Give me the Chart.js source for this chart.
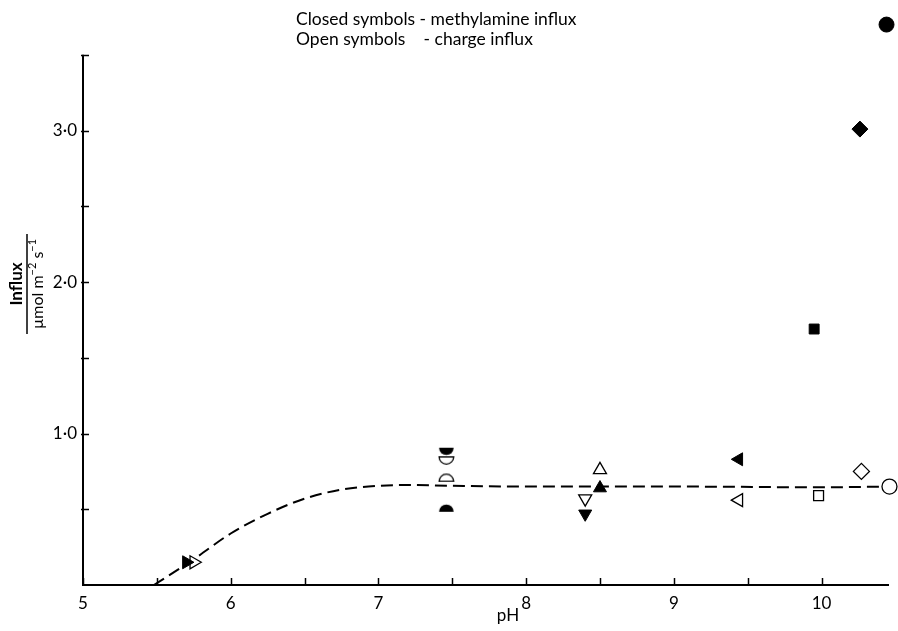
<!DOCTYPE html>
<html>
<head>
<meta charset="utf-8">
<script src="https://cdn.jsdelivr.net/npm/chart.js@4"></script>
<style>
  html, body { margin: 0; padding: 0; background: #fff; }
  #wrap { width: 898px; height: 631px; }
</style>
</head>
<body>
<div id="wrap"><canvas id="chart"></canvas></div>
<script>
// closed symbols - methylamine influx
const closedPH = [5.70, 7.46, 7.46, 8.40, 8.50, 9.44, 9.95, 10.26, 10.44];
const closedInflux = [0.15, 0.88, 0.51, 0.47, 0.64, 0.83, 1.69, 3.01, 3.70];
// open symbols - charge influx
const openPH = [5.75, 7.46, 7.46, 8.40, 8.50, 9.44, 9.98, 10.27, 10.46];
const openInflux = [0.15, 0.82, 0.71, 0.57, 0.76, 0.56, 0.59, 0.75, 0.65];
// one symbol per experiment, same order in both lists
const closedShapes = ["right", "bowl", "dome", "down", "up", "left", "square", "diamond", "circle"];
const openShapes = ["right", "bowl", "dome", "down", "up", "left", "square", "diamond", "circle"];

// dashed curve
const curvePH = [5.48, 5.75, 6.0, 6.25, 6.5, 6.75, 7.0, 7.2, 7.5, 8.0, 9.0, 10.0, 10.45];
const curveInflux = [0.0, 0.17, 0.34, 0.47, 0.57, 0.63, 0.655, 0.66, 0.655, 0.65, 0.65, 0.645, 0.65];

const xLabels = [5, 6, 7, 8, 9, 10];
const yLabels = [1, 2, 3];
const yAxisTop = 3.5;

// half circle symbols drawn on a small canvas
function halfCircle(kind, filled) {
    const c = document.createElement("canvas");
    c.width = 17;
    c.height = 10;
    const g = c.getContext("2d");
    g.beginPath();
    if (kind === "dome") {
        g.arc(8.5, 9, 7.3, Math.PI, 2 * Math.PI);
    } else {
        g.arc(8.5, 1, 7.3, 0, Math.PI);
    }
    g.closePath();
    if (filled) {
        g.fillStyle = "#000";
        g.fill();
    } else {
        g.fillStyle = "#fff";
        g.fill();
        g.lineWidth = 1.3;
        g.strokeStyle = "#000";
        g.stroke();
    }
    return c;
}

function styleOf(shape, filled) {
    if (shape === "bowl" || shape === "dome") return halfCircle(shape, filled);
    if (shape === "square") return "rect";
    if (shape === "diamond") return "rectRot";
    if (shape === "circle") return "circle";
    return "triangle";
}

function rotationOf(shape) {
    if (shape === "right") return 90;
    if (shape === "down") return 180;
    if (shape === "left") return 270;
    return 0;
}

function radiusOf(shape) {
    if (shape === "square") return 7;
    if (shape === "diamond") return 8;
    return 7.5;
}

function toPoints(xs, ys) {
    return xs.map((x, i) => ({ x: x, y: ys[i] }));
}

// y axis line stops at 3.5, tick marks point into the plot
const axisPlugin = {
    id: "axisPlugin",
    afterDraw(chart) {
        const ctx = chart.ctx;
        const xs = chart.scales.x;
        const ys = chart.scales.y;
        const left = chart.chartArea.left;
        ctx.save();
        ctx.strokeStyle = "#000";
        ctx.lineWidth = 2;
        ctx.beginPath();
        ctx.moveTo(left, ys.getPixelForValue(0) + 1);
        ctx.lineTo(left, ys.getPixelForValue(yAxisTop));
        ctx.stroke();

        ctx.lineWidth = 1.5;
        xs.ticks.forEach(t => {
            const px = Math.round(xs.getPixelForValue(t.value)) + 0.5;
            ctx.beginPath();
            ctx.moveTo(px, xs.top);
            ctx.lineTo(px, xs.top - 7);
            ctx.stroke();
        });
        ys.ticks.forEach(t => {
            if (t.value === 0) return;
            const py = Math.round(ys.getPixelForValue(t.value)) + 0.5;
            ctx.beginPath();
            ctx.moveTo(left - 2, py);
            ctx.lineTo(left + 6, py);
            ctx.stroke();
        });
        ctx.restore();
    }
};

// key text and axis titles
const textPlugin = {
    id: "textPlugin",
    afterDraw(chart) {
        const ctx = chart.ctx;
        ctx.save();
        ctx.fillStyle = "#000";
        ctx.textAlign = "left";
        ctx.textBaseline = "alphabetic";
        ctx.font = "17.5px Lato";
        const head = "Closed symbols ";
        ctx.fillText(head + "- methylamine influx", 296, 25);
        ctx.fillText("Open symbols", 296, 45);
        ctx.fillText("- charge influx", 296 + ctx.measureText(head).width + 4, 45);

        ctx.textAlign = "center";
        ctx.font = "17px Lato";
        ctx.fillText("pH", 508, 621);

        // y title as a fraction, rotated
        ctx.translate(27, 284);
        ctx.rotate(-Math.PI / 2);
        ctx.font = "bold 17px Lato";
        ctx.fillText("Influx", 0, -5);
        ctx.lineWidth = 1.5;
        ctx.beginPath();
        ctx.moveTo(-50, 0);
        ctx.lineTo(50, 0);
        ctx.stroke();

        const parts = [
            ["\u00b5mol m", 16, 0],
            ["\u22122", 11, -7],
            [" s", 16, 0],
            ["\u22121", 11, -7]
        ];
        let total = 0;
        parts.forEach(p => {
            ctx.font = p[1] + "px Lato";
            total += ctx.measureText(p[0]).width;
        });
        let x = -total / 2;
        ctx.textAlign = "left";
        parts.forEach(p => {
            ctx.font = p[1] + "px Lato";
            ctx.fillText(p[0], x, 16 + p[2]);
            x += ctx.measureText(p[0]).width;
        });
        ctx.restore();
    }
};

new Chart(document.getElementById("chart"), {
    data: {
        datasets: [
            {
                type: "scatter",
                label: "methylamine influx",
                data: toPoints(closedPH, closedInflux),
                pointStyle: closedShapes.map(s => styleOf(s, true)),
                pointRotation: closedShapes.map(rotationOf),
                pointRadius: closedShapes.map(radiusOf),
                backgroundColor: "#000",
                borderColor: "#000",
                borderWidth: 1,
                clip: false,
                order: 0
            },
            {
                type: "scatter",
                label: "charge influx",
                data: toPoints(openPH, openInflux),
                pointStyle: openShapes.map(s => styleOf(s, false)),
                pointRotation: openShapes.map(rotationOf),
                pointRadius: openShapes.map(radiusOf),
                backgroundColor: "#fff",
                borderColor: "#000",
                borderWidth: 1.3,
                clip: false,
                order: 1
            },
            {
                type: "line",
                label: "curve",
                data: toPoints(curvePH, curveInflux),
                borderColor: "#000",
                borderWidth: 2,
                borderDash: [12, 6],
                pointRadius: 0,
                fill: false,
                cubicInterpolationMode: "monotone",
                order: 2
            }
        ]
    },
    options: {
        responsive: true,
        maintainAspectRatio: false,
        animation: false,
        layout: { padding: { top: 17, right: 10, left: 0, bottom: 0 } },
        plugins: {
            legend: { display: false },
            tooltip: { enabled: false }
        },
        scales: {
            x: {
                type: "linear",
                min: 5,
                max: 10.45,
                afterFit(s) { s.height = 46; },
                border: { color: "#000", width: 2 },
                grid: { display: false, drawTicks: false },
                ticks: {
                    stepSize: 0.5,
                    includeBounds: false,
                    autoSkip: false,
                    maxRotation: 0,
                    padding: 8,
                    color: "#000",
                    font: { family: "Lato", size: 17 },
                    callback: v => xLabels.includes(v) ? String(v) : ""
                }
            },
            y: {
                type: "linear",
                min: 0,
                max: 3.75,
                afterFit(s) { s.width = 83; },
                border: { display: false },
                grid: { display: false, drawTicks: false },
                ticks: {
                    stepSize: 0.5,
                    includeBounds: false,
                    autoSkip: false,
                    padding: 6,
                    color: "#000",
                    font: { family: "Lato", size: 17 },
                    callback: v => yLabels.includes(v) ? v.toFixed(1).replace(".", "\u00b7") : ""
                }
            }
        }
    },
    plugins: [axisPlugin, textPlugin]
});
</script>
</body>
</html>
